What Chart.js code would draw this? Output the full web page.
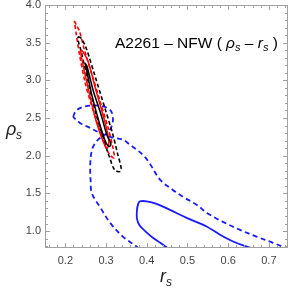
<!DOCTYPE html>
<html><head><meta charset="utf-8">
<script src="https://cdn.jsdelivr.net/npm/chart.js@4/dist/chart.umd.min.js"></script>
<style>html,body{margin:0;padding:0;background:#fff;}#wrap{width:300px;height:290px;}</style>
</head><body><div id="wrap"><canvas id="c" width="300" height="290"></canvas></div>
<script>
// Axis tick labels
const xTickValues = [0.2, 0.3, 0.4, 0.5, 0.6, 0.7];
const yTickValues = [1.0, 1.5, 2.0, 2.5, 3.0, 3.5, 4.0];

// Blue dashed contour (closed, self-touching)
const blueDashedX = [0.219,0.226,0.243,0.273,0.297,0.312,0.317,0.312,0.300,0.280,0.268,0.263,0.261,0.262,0.265,0.285,0.310,0.342,0.376,0.390,0.55,0.752,0.744,0.710,0.671,0.629,0.587,0.548,0.523,0.489,0.464,0.433,0.408,0.393,0.376,0.359,0.342,0.310,0.285,0.261,0.236,0.219];
const blueDashedY = [2.515,2.594,2.647,2.667,2.647,2.594,2.488,2.369,2.289,2.210,2.117,2.011,1.851,1.679,1.503,1.321,1.109,0.923,0.790,0.720,0.60,0.720,0.764,0.844,0.923,1.016,1.122,1.241,1.347,1.454,1.546,1.679,1.891,1.997,2.077,2.143,2.210,2.249,2.302,2.369,2.435,2.515];

// Blue solid contour (open, leaves through the bottom)
const blueSolidX = [0.462,0.457,0.433,0.415,0.398,0.383,0.376,0.376,0.379,0.383,0.400,0.424,0.457,0.498,0.547,0.580,0.612,0.646,0.670,0.683];
const blueSolidY = [0.724,0.751,0.844,0.910,0.990,1.069,1.162,1.281,1.361,1.394,1.394,1.361,1.281,1.175,1.060,0.951,0.861,0.794,0.751,0.724];

// Red dashed contour
const redDashedX = [0.222,0.227,0.235,0.248,0.268,0.288,0.305,0.317,0.320,0.309,0.297,0.280,0.264,0.248,0.235,0.227,0.222];
const redDashedY = [3.788,3.735,3.646,3.381,3.032,2.674,2.369,2.103,1.971,2.011,2.143,2.408,2.674,2.983,3.337,3.602,3.788];

// Black dashed contour
const blackDashedX = [0.231,0.239,0.251,0.272,0.297,0.317,0.329,0.337,0.334,0.321,0.309,0.293,0.276,0.256,0.239,0.231,0.231];
const blackDashedY = [3.580,3.558,3.430,3.072,2.634,2.276,2.011,1.838,1.789,1.812,1.971,2.236,2.541,2.983,3.381,3.536,3.580];

// Red solid contour
const redSolidX = [0.238,0.243,0.256,0.276,0.297,0.307,0.303,0.293,0.276,0.256,0.239,0.238];
const redSolidY = [3.403,3.381,3.248,2.850,2.452,2.187,2.099,2.187,2.452,2.895,3.324,3.403];

// Black solid contour
const blackSolidX = [0.248,0.253,0.268,0.288,0.302,0.312,0.308,0.300,0.285,0.265,0.252,0.248];
const blackSolidY = [3.231,3.191,2.873,2.541,2.276,2.157,2.123,2.170,2.408,2.806,3.138,3.231];

const pts = (xs, ys) => xs.map((v, i) => ({x: v, y: ys[i]}));
function contour(xs, ys, color, dash, width, tension) {
  return {data: pts(xs, ys), showLine: true, pointRadius: 0, pointHoverRadius: 0,
    borderColor: color, backgroundColor: color, borderWidth: width, borderDash: dash,
    tension: tension, fill: false};
}

const FONT = '"Liberation Sans", Arial, Helvetica, sans-serif';

const framePlugin = {
  id: 'frame',
  afterDatasetsDraw(chart) {
    const {ctx, chartArea: a, scales: {x, y}} = chart;
    ctx.save();
    ctx.strokeStyle = '#a0a0a0';
    ctx.lineWidth = 1;
    ctx.strokeRect(a.left + 0.5, a.top + 0.5, a.right - a.left - 1, a.bottom - a.top - 1);
    ctx.beginPath();
    for (let i = 8; i <= 37; i++) {
      const v = i * 0.02;
      const len = (i % 5 === 0) ? 5 : 3;
      const px = Math.round(x.getPixelForValue(v)) + 0.5;
      ctx.moveTo(px, a.bottom); ctx.lineTo(px, a.bottom - len);
      ctx.moveTo(px, a.top); ctx.lineTo(px, a.top + len);
    }
    for (let i = 8; i <= 40; i++) {
      const v = i * 0.1;
      const len = (i % 5 === 0) ? 5 : 3;
      const py = Math.round(y.getPixelForValue(v)) + 0.5;
      ctx.moveTo(a.left, py); ctx.lineTo(a.left + len, py);
      ctx.moveTo(a.right, py); ctx.lineTo(a.right - len, py);
    }
    ctx.stroke();
    ctx.restore();
  },
  afterDraw(chart) {
    const {ctx} = chart;
    ctx.save();
    ctx.fillStyle = '#000';
    ctx.textBaseline = 'alphabetic';
    // Title inside plot
    const segs = [
      ['A2261 \u2013 NFW ( ', 'normal 15.5px ' + FONT, 0],
      ['\u03C1', 'italic 15.5px ' + FONT, 0],
      ['s', 'italic 11px ' + FONT, 3],
      [' \u2013 ', 'normal 15.5px ' + FONT, 0],
      ['r', 'italic 15.5px ' + FONT, 0],
      ['s', 'italic 11px ' + FONT, 3],
      [' )', 'normal 15.5px ' + FONT, 0]
    ];
    let cx = 115;
    const base = 48;
    for (const [t, f, dy] of segs) {
      ctx.font = f;
      ctx.fillText(t, cx, base + dy);
      cx += ctx.measureText(t).width;
    }
    // Y axis title
    ctx.fillStyle = '#222';
    ctx.font = 'italic 18px ' + FONT;
    ctx.fillText('\u03C1', 6, 135);
    ctx.font = 'italic 12px ' + FONT;
    ctx.fillText('s', 16, 139);
    // X axis title
    ctx.font = 'italic 18px ' + FONT;
    ctx.fillText('r', 160, 282);
    ctx.font = 'italic 12px ' + FONT;
    ctx.fillText('s', 166, 286);
    ctx.restore();
  }
};

new Chart(document.getElementById('c'), {
  type: 'scatter',
  data: {
    datasets: [
      contour(blackSolidX, blackSolidY, '#000000', [], 1.5, 0.3),
      contour(redSolidX, redSolidY, '#ff0000', [], 1.5, 0.3),
      contour(blackDashedX, blackDashedY, '#000000', [4, 2.5], 1.6, 0.3),
      contour(redDashedX, redDashedY, '#ff0000', [4, 2.5], 1.6, 0.3),
      contour(blueSolidX, blueSolidY, '#1a1aff', [], 1.8, 0.35),
      contour(blueDashedX, blueDashedY, '#1a1aff', [5, 3.5], 1.8, 0.35)
    ]
  },
  options: {
    responsive: false,
    animation: false,
    devicePixelRatio: 1,
    layout: {padding: {left: 0, right: 12, top: 5, bottom: 0}},
    plugins: {legend: {display: false}, tooltip: {enabled: false}},
    scales: {
      x: {
        type: 'linear', min: 0.15, max: 0.747,
        afterBuildTicks: s => { s.ticks = xTickValues.map(v => ({value: v})); },
        afterFit: s => { s.height = 42; s.paddingLeft = 0; s.paddingRight = 0; },
        grid: {display: false, drawTicks: false},
        border: {display: false},
        ticks: {callback: v => Number(v).toFixed(1), color: '#444', padding: 6,
          maxRotation: 0, autoSkip: false, font: {size: 11, family: FONT}}
      },
      y: {
        type: 'linear', min: 0.775, max: 4.0,
        afterBuildTicks: s => { s.ticks = yTickValues.map(v => ({value: v})); },
        afterFit: s => { s.width = 45; s.paddingTop = 0; s.paddingBottom = 0; },
        grid: {display: false, drawTicks: false},
        border: {display: false},
        ticks: {callback: v => Number(v).toFixed(1), color: '#444', padding: 4,
          autoSkip: false, font: {size: 11, family: FONT}}
      }
    }
  },
  plugins: [framePlugin]
});
</script></body></html>
